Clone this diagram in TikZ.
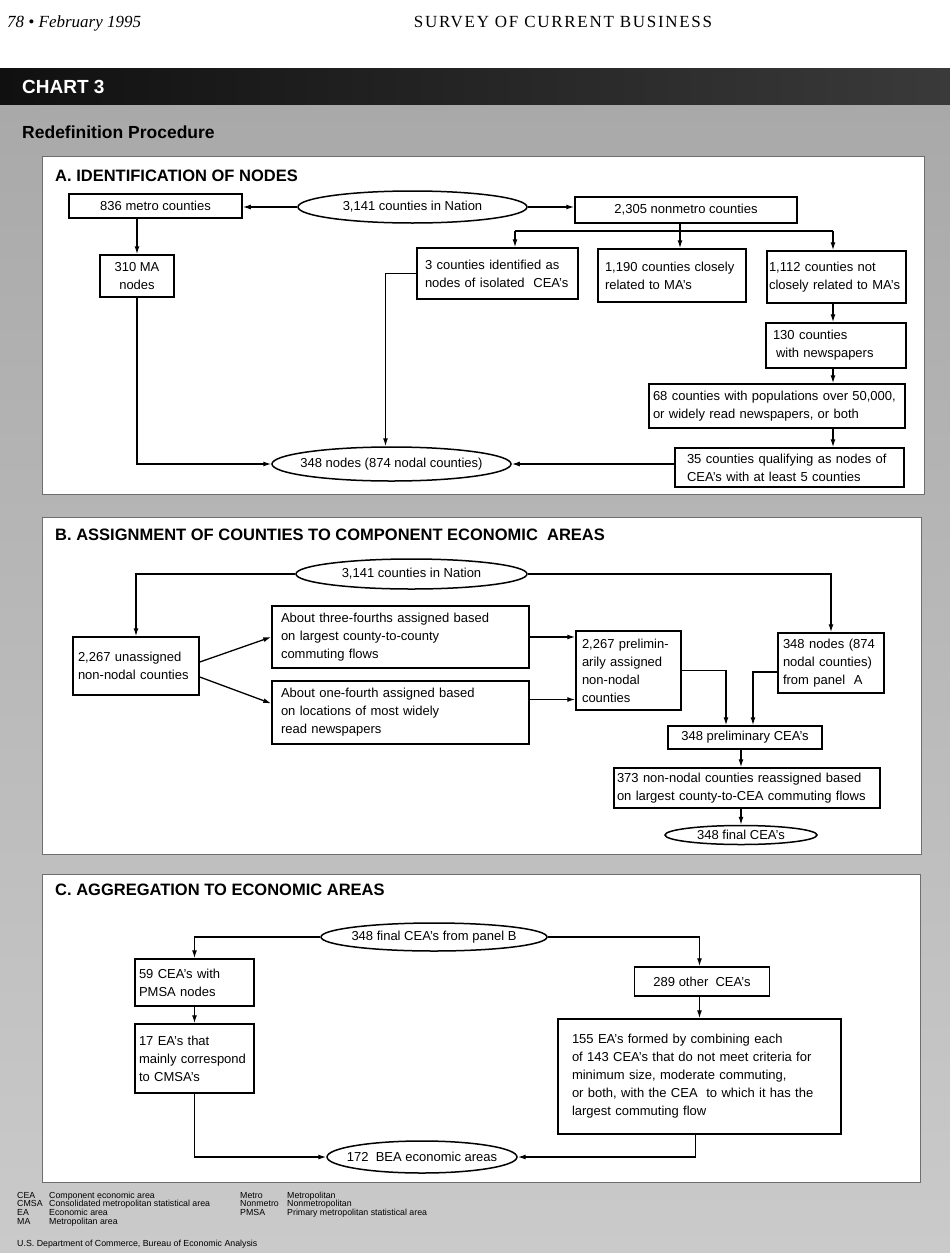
\documentclass[tikz,border=0pt]{standalone}
\usepackage{fontspec}
\setmainfont{Liberation Sans}
\newfontfamily\headserif{Liberation Serif}
\newfontfamily\headcaps[LetterSpace=10]{Liberation Serif}
\usepackage{tikz}
\usetikzlibrary{shapes,arrows,arrows.meta}
\newcommand{\boxfont}{\fontsize{13}{18}\selectfont}
\newcommand{\titlefont}{\fontsize{16.5}{18}\selectfont\bfseries}
\newcommand{\notefont}{\fontsize{8.8}{9}\selectfont}
\definecolor{barleft}{HTML}{101010}
\definecolor{barright}{HTML}{3A3A3A}
\definecolor{pagetop}{HTML}{A9A9A9}
\definecolor{pagebottom}{HTML}{CACACA}
\definecolor{frame}{HTML}{6E6E6E}
\tikzstyle{stage}=[draw, line width=1.5pt, fill=white, inner sep=0pt,
    align=left, font=\boxfont]
\tikzstyle{pool}=[draw, ellipse, line width=1.5pt, fill=white,
    inner xsep=-8pt, inner ysep=-2pt, font=\boxfont]
\tikzstyle{panel}=[draw=frame, line width=1pt, fill=white]
\tikzstyle{paneltitle}=[anchor=base west, inner sep=0pt, font=\titlefont]
\tikzstyle{note}=[anchor=base west, inner sep=0pt, font=\notefont]
\tikzstyle{link}=[line width=1.3pt, -{Latex[length=8pt,width=5pt]}]
\tikzstyle{wire}=[line width=1.3pt]

\begin{document}
\begin{tikzpicture}[x=1pt,y=-1pt]
\useasboundingbox (0,0) rectangle (950,1253);
% page
\fill [white] (0,0) rectangle (950,1253);
\shade [top color=pagetop, bottom color=pagebottom] (0,104) rectangle (950,1253);
\shade [left color=barleft, right color=barright] (0,68) rectangle (950,104);
% running head
\path (7,27) node [anchor=base west, inner sep=0pt,
    font=\headserif\itshape\fontsize{17}{20}\selectfont] (folio) {78 • February 1995};
\path (563,27) node [anchor=base, inner sep=0pt,
    font=\headcaps\fontsize{17}{20}\selectfont] (journal) {SURVEY OF CURRENT BUSINESS};
\path (22,93) node [anchor=base west, inner sep=0pt, text=white,
    font=\bfseries\fontsize{19}{20}\selectfont] (chart) {CHART 3};
\path (22,138) node [anchor=base west, inner sep=0pt,
    font=\bfseries\fontsize{17.5}{20}\selectfont] (heading) {Redefinition Procedure};
% panels
\draw [panel] (42,156) rectangle (924,494);
\draw [panel] (42,517) rectangle (921,854);
\draw [panel] (42,874) rectangle (920,1182);

%%% Panel A
\path (55,181) node [paneltitle] (titleA) {A. IDENTIFICATION OF NODES};
% Nation
\path (412.5,207) node [pool, minimum width=229pt, minimum height=32pt] (nationA) {3,141 counties in Nation};
% metro
\path (155.5,206) node [stage, minimum width=173pt, minimum height=24pt] (metro) {836 metro counties};
\path (137,276) node [stage, align=center, minimum width=74pt, minimum height=42pt] (ma) {310 MA\\nodes};
% nonmetro
\path (686,210) node [stage, minimum width=222pt, minimum height=26pt] (nonmetro) {2,305 nonmetro counties};
\path (497.5,273.5) node [stage, inner xsep=8pt, text width=145pt, minimum height=51pt] (isolated) {3 counties identified as\\nodes of isolated~ CEA's};
\path (672,275.5) node [stage, inner xsep=7pt, text width=134pt, minimum height=53pt] (closely) {1,190 counties closely\\related to MA's};
\path (836.5,277) node [stage, inner xsep=2pt, text width=135pt, minimum height=52pt] (notclosely) {1,112 counties not\\closely related to MA's};
\path (836,345.5) node [stage, inner xsep=7pt, text width=126pt, minimum height=45pt] (news) {130 counties\\\hspace*{3pt}with newspapers};
\path (777,406) node [stage, inner xsep=4pt, text width=248pt, minimum height=44pt] (pop50) {68 counties with populations over 50,000,\\or widely read newspapers, or both};
\path (789.5,467.5) node [stage, inner xsep=12pt, text width=205pt, minimum height=39pt] (qualifying) {35 counties qualifying as nodes of\\CEA's with at least 5 counties};
% nodes
\path (391.5,464) node [pool, minimum width=239pt, minimum height=34pt] (nodal) {348 nodes (874 nodal counties)};
% arrows
\draw [link] (nationA.west) -- (nationA.west -| metro.east);
\draw [link] (nationA.east) -- (nationA.east -| nonmetro.west);
\draw [link] (metro.south -| ma.north) -- (ma.north);
\coordinate (forkA) at (680,231);
\coordinate (forkL) at (515,231);
\coordinate (forkR) at (833,231);
\draw [wire] (forkA |- nonmetro.south) -- (forkA);
\draw [wire] (forkL) -- (forkR);
\draw [link] (forkL) -- (forkL |- isolated.north);
\draw [link] (forkA) -- (forkA |- closely.north);
\draw [link] (forkR) -- (forkR |- notclosely.north);
\draw [link] (forkR |- notclosely.south) -- (forkR |- news.north);
\draw [link] (forkR |- news.south) -- (forkR |- pop50.north);
\draw [link] (forkR |- pop50.south) -- (forkR |- qualifying.north);
\draw [link] (ma.south) |- (nodal.west);
\draw [link] (isolated.west) -| ([xshift=-6pt]nodal.north);
\draw [link] (nodal.east -| qualifying.west) -- (nodal.east);

%%% Panel B
\path (55,540) node [paneltitle] (titleB) {B. ASSIGNMENT OF COUNTIES TO COMPONENT ECONOMIC~ AREAS};
% Nation
\path (411.5,574) node [pool, minimum width=231pt, minimum height=30pt] (nationB) {3,141 counties in Nation};
% non-nodal counties
\path (136,666) node [stage, inner xsep=5pt, text width=116pt, minimum height=58pt] (unassigned) {2,267 unassigned\\non-nodal counties};
\path (400.5,637) node [stage, inner xsep=9pt, text width=239pt, minimum height=62pt] (threefourths) {About three-fourths assigned based\\on largest county-to-county\\commuting flows};
\path (400.5,712.5) node [stage, inner xsep=9pt, text width=239pt, minimum height=63pt] (onefourth) {About one-fourth assigned based\\on locations of most widely\\read newspapers};
\path (628.5,670.5) node [stage, inner xsep=6pt, text width=93pt, minimum height=79pt] (prelim) {2,267 prelimin-\\arily assigned\\non-nodal\\counties};
% nodes from panel A
\path (831,663) node [stage, inner xsep=5pt, text width=96pt, minimum height=60pt] (nodesA) {348 nodes (874\\nodal counties)\\from panel~ A};
% CEA's
\path (745,737.5) node [stage, minimum width=154pt, minimum height=23pt] (prelimCEA) {348 preliminary CEA's};
\path (747,788) node [stage, inner xsep=3pt, text width=260pt, minimum height=40pt] (reassigned) {373 non-nodal counties reassigned based\\on largest county-to-CEA commuting flows};
\path (741,835) node [pool, minimum width=152pt, minimum height=19pt] (finalB) {348 final CEA's};
% arrows
\draw [link] (nationB.west) -| (unassigned.north);
\draw [link] (nationB.east) -| (nodesA.north);
\draw [link] ([yshift=4pt]unassigned.east) -- (threefourths.west);
\draw [link] ([yshift=-11pt]unassigned.east) -- ([yshift=9pt]onefourth.west);
\draw [link] (threefourths.east) -- (threefourths.east -| prelim.west);
\draw [link] ([yshift=13pt]onefourth.east) -- ([yshift=13pt]onefourth.east -| prelim.west);
\draw [link] (prelim.east) -| ([xshift=-19pt]prelimCEA.north);
\draw [link] ([yshift=-9pt]nodesA.west) -| ([xshift=8pt]prelimCEA.north);
\draw [link] (prelimCEA.south -| finalB.north) -- (finalB.north |- reassigned.north);
\draw [link] (finalB.north |- reassigned.south) -- (finalB.north);

%%% Panel C
\path (55,895) node [paneltitle] (titleC) {C. AGGREGATION TO ECONOMIC AREAS};
% final CEA's
\path (434,937) node [pool, minimum width=226pt, minimum height=28pt] (finalCEA) {348 final CEA's from panel B};
% PMSA side
\path (194.5,982.5) node [stage, inner xsep=4pt, text width=111pt, minimum height=47pt] (withPMSA) {59 CEA's with\\PMSA nodes};
\path (194.5,1058.5) node [stage, inner xsep=4pt, text width=111pt, minimum height=69pt] (toCMSA) {17 EA's that\\mainly correspond\\to CMSA's};
% other side
\path (702,981.5) node [stage, minimum width=135pt, minimum height=29pt] (otherCEA) {289 other~ CEA's};
\path (699.5,1076.5) node [stage, inner xsep=14pt, text width=255pt, minimum height=115pt] (combined) {155 EA's formed by combining each\\of 143 CEA's that do not meet criteria for\\minimum size, moderate commuting,\\or both, with the CEA~ to which it has the\\largest commuting flow};
% economic areas
\path (422,1157) node [pool, minimum width=184pt, minimum height=32pt] (bea) {172~ BEA economic areas};
% arrows
\draw [link] (finalCEA.west) -| (withPMSA.north);
\draw [link] (finalCEA.east) -| (combined.north |- otherCEA.north);
\draw [link] (withPMSA) -- (toCMSA);
\draw [link] (combined.north |- otherCEA.south) -- (combined.north);
\draw [link] (toCMSA.south) |- (bea.west);
\draw [link] ([xshift=-4pt]combined.south) |- (bea.east);

%%% abbreviations
\path (17,1198) node [note] (abbCEA) {CEA};
\path (49,1198) node [note] (defCEA) {Component economic area};
\path (17,1206.7) node [note] (abbCMSA) {CMSA};
\path (49,1206.7) node [note] (defCMSA) {Consolidated metropolitan statistical area};
\path (17,1215.4) node [note] (abbEA) {EA};
\path (49,1215.4) node [note] (defEA) {Economic area};
\path (17,1224) node [note] (abbMA) {MA};
\path (49,1224) node [note] (defMA) {Metropolitan area};
\path (240,1198) node [note] (abbMetro) {Metro};
\path (287,1198) node [note] (defMetro) {Metropolitan};
\path (240,1206.7) node [note] (abbNonmetro) {Nonmetro};
\path (287,1206.7) node [note] (defNonmetro) {Nonmetropolitan};
\path (240,1215.4) node [note] (abbPMSA) {PMSA};
\path (287,1215.4) node [note] (defPMSA) {Primary metropolitan statistical area};
\path (17,1246) node [note] (source) {U.S. Department of Commerce, Bureau of Economic Analysis};
\end{tikzpicture}
\end{document}
